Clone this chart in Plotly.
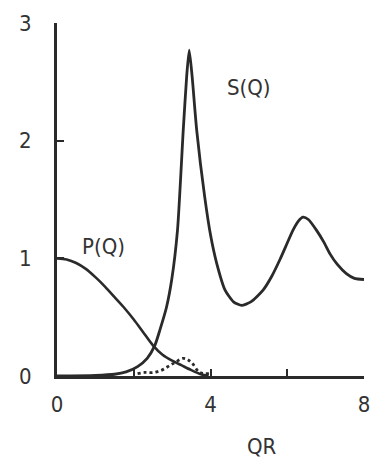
import plotly.graph_objects as go

# Structure factor S(Q)
s_x = [0, 1.0, 1.5, 1.8, 2.1, 2.35, 2.55, 2.68, 2.85, 2.99, 3.14, 3.29, 3.38, 3.445, 3.52, 3.64,
       3.85, 4.0, 4.16, 4.38, 4.6, 4.81, 5.05, 5.37, 5.6, 5.81, 6.0, 6.15, 6.3, 6.41, 6.55, 6.76,
       6.95, 7.11, 7.3, 7.54, 7.75, 8.0]
s_y = [0, 0.005, 0.015, 0.035, 0.08, 0.15, 0.26, 0.39, 0.58, 0.82, 1.24, 2.09, 2.55, 2.77, 2.55, 2.09,
       1.52, 1.2, 0.96, 0.73, 0.63, 0.6, 0.63, 0.73, 0.85, 0.99, 1.13, 1.24, 1.32, 1.35, 1.33, 1.24,
       1.14, 1.04, 0.95, 0.87, 0.83, 0.82]

# Form factor P(Q)
p_x = [0, 0.25, 0.5, 0.75, 1.0, 1.25, 1.5, 1.75, 2.0, 2.25, 2.5, 2.75, 3.0, 3.25, 3.5, 3.75, 3.95]
p_y = [1.0, 0.99, 0.96, 0.91, 0.84, 0.76, 0.67, 0.58, 0.48, 0.37, 0.26, 0.18, 0.13, 0.09, 0.05, 0.015, 0.0]

# Product P(Q)S(Q) (dotted)
d_x = [2.1, 2.29, 2.5, 2.73, 2.94, 3.1, 3.28, 3.4, 3.52, 3.72, 3.98]
d_y = [0.02, 0.03, 0.03, 0.05, 0.09, 0.12, 0.15, 0.14, 0.11, 0.03, 0.02]

x_ticks = [0, 2, 4, 6, 8]
x_ticktext = ["0", "", "4", "", "8"]
y_ticks = [0, 1, 2, 3]
y_ticktext = ["0", "1", "2", "3"]

ink = "#2a2a2a"
font = dict(family="DejaVu Sans Condensed, Liberation Sans Narrow, sans-serif", size=22, color="#333333")

fig = go.Figure()
fig.add_trace(go.Scatter(x=s_x, y=s_y, mode="lines", line=dict(color=ink, width=2.8, shape="spline", smoothing=0.6),
                         hoverinfo="skip", showlegend=False))
fig.add_trace(go.Scatter(x=p_x, y=p_y, mode="lines", line=dict(color=ink, width=2.6, shape="spline", smoothing=0.8),
                         hoverinfo="skip", showlegend=False))
fig.add_trace(go.Scatter(x=d_x, y=d_y, mode="lines", line=dict(color=ink, width=2.8, dash="dot", shape="spline"),
                         hoverinfo="skip", showlegend=False))

fig.add_annotation(x=5.0, y=2.45, xref="x", yref="y", text="S(Q)", showarrow=False, font=font)
fig.add_annotation(x=1.22, y=1.1, xref="x", yref="y", text="P(Q)", showarrow=False, font=font)
fig.add_annotation(x=5.34, y=-0.201, xref="x", yref="paper", yanchor="middle", text="QR",
                   showarrow=False, font=font)

fig.update_layout(
    width=375, height=461,
    margin=dict(l=57, r=11, t=23, b=85),
    paper_bgcolor="white", plot_bgcolor="white",
    font=font,
)
fig.update_xaxes(range=[0, 8], tickvals=x_ticks, ticktext=x_ticktext, ticks="inside", ticklen=7, tickwidth=2,
                 tickcolor=ink, showline=True, linecolor=ink, linewidth=3.2, showgrid=False, zeroline=False,
                 ticklabelstandoff=6, tickfont=font, automargin=False)
fig.update_yaxes(range=[0, 3], tickvals=y_ticks, ticktext=y_ticktext, ticks="inside", ticklen=7, tickwidth=2,
                 tickcolor=ink, showline=True, linecolor=ink, linewidth=3.2, showgrid=False, zeroline=False,
                 ticklabelstandoff=18, tickfont=font, automargin=False)

fig.write_html("out.html", config={"displayModeBar": False},
               post_script="document.body.style.margin='0';document.body.style.overflow='hidden';")
